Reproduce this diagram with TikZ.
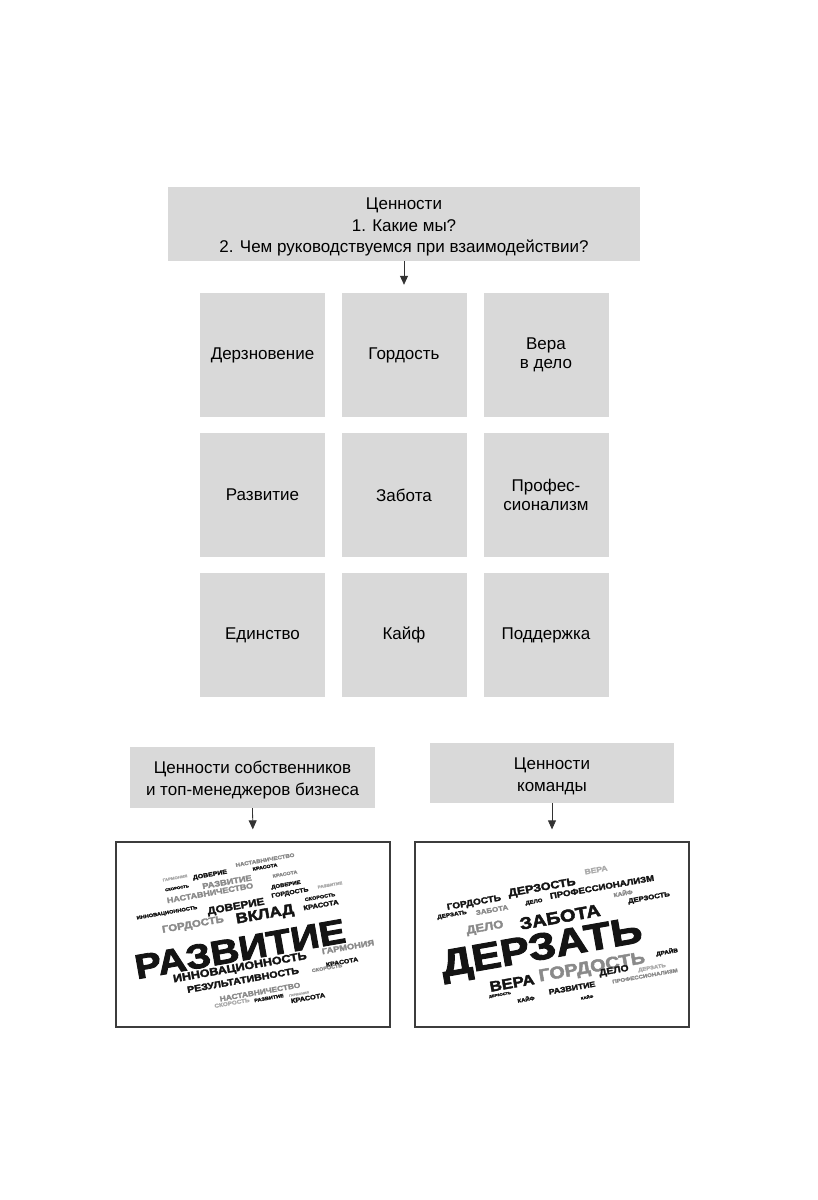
\documentclass[tikz,border=0pt]{standalone}
\usepackage{fontspec}
\setmainfont{Liberation Sans}
\newfontfamily\cloudfont[BoldFeatures={FakeBold=2.5}]{Liberation Sans}
\usetikzlibrary{arrows.meta}
\definecolor{boxgray}{HTML}{D9D9D9}
\definecolor{cblk}{HTML}{141414}
\definecolor{cgry}{HTML}{8A8A8A}
\definecolor{clgt}{HTML}{ABABAB}
\definecolor{frm}{HTML}{3C3C3C}
\tikzset{
  gbox/.style={fill=boxgray, draw=none, inner sep=0pt},
  lbl/.style={inner sep=0pt, align=center, font=\fontsize{17}{21.5}\selectfont},
  cell/.style={gbox, minimum width=125pt, minimum height=124pt, align=center,
    font=\fontsize{17}{18.5}\selectfont},
  frame/.style={draw=frm, line width=1.3pt, fill=white, inner sep=0pt},
  arr/.style={draw=black!80, line width=0.8pt, -{Triangle[width=8pt,length=9pt]}},
  cloudword/.style={inner sep=0pt, rotate=10, font=\cloudfont\bfseries}
}
\newcommand\cwd[6]{\node[cloudword,text=#5] (#1) at (#2,#3)
  {\scalebox{0.96}{\resizebox{#4pt}{!}{\scalebox{1.16}[1]{#6}}}};}
\begin{document}
\begin{tikzpicture}[x=1pt,y=-1pt]
\useasboundingbox (0,0) rectangle (817,1200);
\fill[white] (0,0) rectangle (817,1200);

\node[gbox, minimum width=472pt, minimum height=74pt] (top) at (404,224) {};
\node[lbl] (toptext) at (404,227)
  {Ценности\\1. Какие мы?\\2. Чем руководствуемся при взаимодействии?};

\node[cell] (g11) at (262.5,355) {Дерзновение};
\node[cell] (g12) at (404,355) {Гордость};
\node[cell] (g13) at (546,355) {Вера\\в дело};
\node[cell] (g21) at (262.5,495) {Развитие};
\node[cell] (g22) at (404,495) {Забота};
\node[cell] (g23) at (546,495) {Профес-\\сионализм};
\node[cell] (g31) at (262.5,635) {Единство};
\node[cell] (g32) at (404,635) {Кайф};
\node[cell] (g33) at (546,635) {Поддержка};

\draw[arr, shorten >=8pt] (top.south) -- (g12.north);

\node[gbox, minimum width=245pt, minimum height=61pt] (own) at (252.5,777.5) {};
\node[lbl, font=\fontsize{17}{22}\selectfont] (owntext) at (252.5,780.5)
  {Ценности собственников\\и топ-менеджеров бизнеса};
\node[gbox, minimum width=244pt, minimum height=60pt] (team) at (552,773) {};
\node[lbl, font=\fontsize{17}{22}\selectfont] (teamtext) at (552,776.5)
  {Ценности\\команды};

\node[frame, minimum width=274pt, minimum height=185pt] (cl) at (253,934.5) {};
\node[frame, minimum width=274pt, minimum height=185pt] (cr) at (552,934.5) {};

\draw[arr, shorten >=12pt] (own.south) -- (cl.north);
\draw[arr, shorten >=12pt] (team.south) -- (cr.north);

% left cloud
\cwd{a1}{175}{878}{26}{clgt}{ГАРМОНИЯ}
\cwd{a2}{210}{875}{36}{cblk}{ДОВЕРИЕ}
\cwd{a3}{265}{860}{62}{cgry}{НАСТАВНИЧЕСТВО}
\cwd{a4}{265}{867}{26}{cblk}{КРАСОТА}
\cwd{a5}{177}{888}{25}{cblk}{СКОРОСТЬ}
\cwd{a6}{227}{882}{52}{cgry}{РАЗВИТИЕ}
\cwd{a7}{285}{874}{26}{cgry}{КРАСОТА}
\cwd{a8}{210}{893}{91}{cgry}{НАСТАВНИЧЕСТВО}
\cwd{a9}{286}{885}{31}{cblk}{ДОВЕРИЕ}
\cwd{a10}{290}{893}{39}{cblk}{ГОРДОСТЬ}
\cwd{a11}{330}{885}{26}{clgt}{РАЗВИТИЕ}
\cwd{a12}{320}{897}{32}{cblk}{СКОРОСТЬ}
\cwd{a13}{167}{913}{64}{cblk}{ИННОВАЦИОННОСТЬ}
\cwd{a14}{236}{907}{60}{cblk}{ДОВЕРИЕ}
\cwd{a15}{265}{915}{61}{cblk}{ВКЛАД}
\cwd{a16}{321}{905}{37}{cblk}{КРАСОТА}
\cwd{a17}{193}{925}{65}{cgry}{ГОРДОСТЬ}
\cwd{a18}{240}{949}{222}{cblk}{РАЗВИТИЕ}
\cwd{a19}{348}{947}{55}{cgry}{ГАРМОНИЯ}
\cwd{a20}{240}{968}{141}{cblk}{ИННОВАЦИОННОСТЬ}
\cwd{a21}{342}{962}{34}{cblk}{КРАСОТА}
\cwd{a22}{327}{968}{32}{cgry}{СКОРОСТЬ}
\cwd{a23}{243}{980}{118}{cblk}{РЕЗУЛЬТАТИВНОСТЬ}
\cwd{a24}{260}{992}{85}{cgry}{НАСТАВНИЧЕСТВО}
\cwd{a25}{269}{998}{31}{cblk}{РАЗВИТИЕ}
\cwd{a26}{299}{994}{21}{clgt}{ГАРМОНИЯ}
\cwd{a27}{308}{998}{36}{cblk}{КРАСОТА}
\cwd{a28}{232}{1003}{37}{clgt}{СКОРОСТЬ}

% right cloud
\cwd{b1}{474}{903}{57}{cblk}{ГОРДОСТЬ}
\cwd{b2}{542}{888}{71}{cblk}{ДЕРЗОСТЬ}
\cwd{b3}{596}{870}{24}{clgt}{ВЕРА}
\cwd{b4}{534}{902}{18}{cblk}{ДЕЛО}
\cwd{b5}{602}{887}{110}{cblk}{ПРОФЕССИОНАЛИЗМ}
\cwd{b6}{452}{915}{31}{cblk}{ДЕРЗАТЬ}
\cwd{b7}{492}{910}{34}{cgry}{ЗАБОТА}
\cwd{b8}{623}{893}{20}{cgry}{КАЙФ}
\cwd{b9}{649}{898}{44}{cblk}{ДЕРЗОСТЬ}
\cwd{b10}{485}{928}{39}{cgry}{ДЕЛО}
\cwd{b11}{560}{917}{85}{cblk}{ЗАБОТА}
\cwd{b12}{542}{950}{212}{cblk}{ДЕРЗАТЬ}
\cwd{b13}{667}{952}{23}{cblk}{ДРАЙВ}
\cwd{b14}{592}{968}{112}{cgry}{ГОРДОСТЬ}
\cwd{b15}{512}{983}{47}{cblk}{ВЕРА}
\cwd{b16}{614}{971}{31}{cblk}{ДЕЛО}
\cwd{b17}{652}{968}{29}{clgt}{ДЕРЗАТЬ}
\cwd{b18}{645}{976}{69}{cgry}{ПРОФЕССИОНАЛИЗМ}
\cwd{b19}{500}{995}{23}{cblk}{ДЕРЗОСТЬ}
\cwd{b20}{526}{999}{18}{cblk}{КАЙФ}
\cwd{b21}{572}{988}{49}{cblk}{РАЗВИТИЕ}
\cwd{b22}{587}{997}{13}{cblk}{КАЙФ}
\end{tikzpicture}
\end{document}
